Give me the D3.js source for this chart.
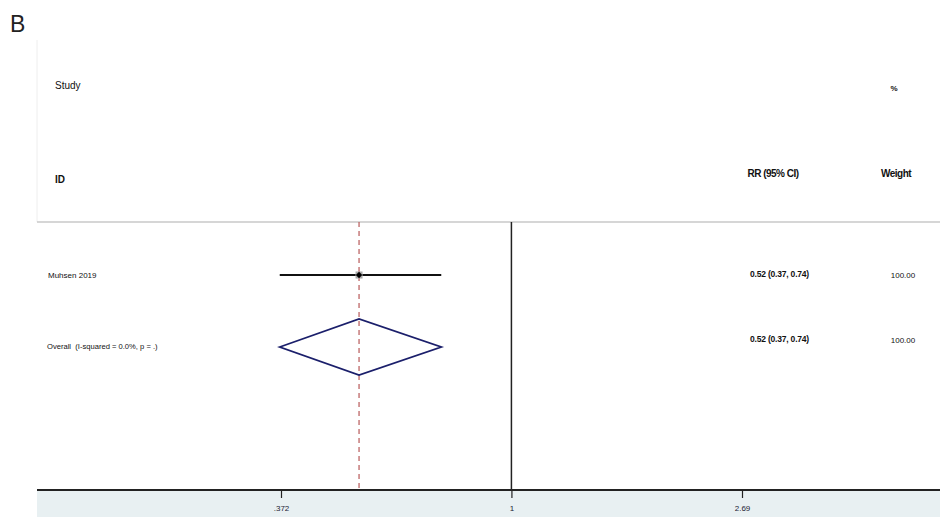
<!DOCTYPE html>
<html><head><meta charset="utf-8">
<script src="https://cdn.jsdelivr.net/npm/d3@7"></script>
<style>body{margin:0;background:#fff;}svg{display:block;font-family:"Liberation Sans",Arial,sans-serif;}text{white-space:pre;}</style>
</head><body><svg id="c" width="940" height="517"></svg>
<script>
const studies = ["Muhsen 2019"];
const rr = [0.52];
const lo = [0.37];
const hi = [0.74];
const weights = ["100.00"];
const overallLabel = "Overall  (I-squared = 0.0%, p = .)";
const overall = {rr:0.52, lo:0.37, hi:0.74, text:"0.52 (0.37, 0.74)", weight:"100.00"};
const rrText = ["0.52 (0.37, 0.74)"];
const tickVals = [0.372, 1, 2.69];
const tickLabels = [".372", "1", "2.69"];

const svg = d3.select("#c");
const x = d3.scaleLog().domain([0.372, 2.69]).range([281, 742]);
const yRow = d3.scalePoint().domain(["s0","ov"]).range([275, 347]);
const yTop = 222, yBot = 490, xLeft = 37, xRight = 940;

// panel
svg.append("rect").attr("x",xLeft).attr("y",yBot).attr("width",xRight-xLeft).attr("height",517-yBot).attr("fill","#e8f0f2");
svg.append("line").attr("x1",xLeft).attr("x2",xLeft).attr("y1",40).attr("y2",yTop).attr("stroke","#eeeeee").attr("stroke-width",1);
svg.append("line").attr("x1",xLeft).attr("x2",xRight).attr("y1",yTop).attr("y2",yTop).attr("stroke","#c8c8c8").attr("stroke-width",1.5);

svg.append("text").attr("x",10).attr("y",32).attr("font-size",23).attr("fill","#222").text("B");

// headers
const hdr = (t,xx,yy,anchor,w,fs)=>svg.append("text").attr("x",xx).attr("y",yy).attr("text-anchor",anchor||"start")
  .attr("font-size",fs||10).attr("font-weight",w||"normal").attr("fill","#111").text(t);
hdr("Study",55,89);
hdr("ID",55,183,"start","bold",10);
hdr("RR (95% CI)",773,177,"middle","bold",10).attr("letter-spacing",-0.5);
hdr("Weight",896,177,"middle","bold",10).attr("letter-spacing",-0.5);
hdr("%",894,91,"middle","bold",8);

// null line
svg.append("line").attr("x1",x(1)).attr("x2",x(1)).attr("y1",yTop).attr("y2",yBot).attr("stroke","#222").attr("stroke-width",1.5);
// overall dashed
svg.append("line").attr("x1",x(overall.rr)).attr("x2",x(overall.rr)).attr("y1",yTop).attr("y2",yBot)
  .attr("stroke","#b85a5a").attr("stroke-width",1.2).attr("stroke-dasharray","5,4");

// studies
studies.forEach((s,i)=>{
  const yy = yRow("s"+i);
  svg.append("line").attr("x1",x(lo[i])).attr("x2",x(hi[i])).attr("y1",yy).attr("y2",yy).attr("stroke","#111").attr("stroke-width",1.8);
  svg.append("rect").attr("x",x(rr[i])-3.5).attr("y",yy-3.5).attr("width",7).attr("height",7).attr("fill","#aaa");
  svg.append("path").attr("d",d3.symbol(d3.symbolDiamond2,26)()).attr("transform",`translate(${x(rr[i])},${yy})`).attr("fill","#000");
  svg.append("text").attr("x",48).attr("y",yy+3).attr("font-size",8).attr("fill","#111").text(s);
  svg.append("text").attr("x",750).attr("y",yy+2).attr("font-size",8.5).attr("font-weight","bold").attr("fill","#111").attr("letter-spacing",-0.2).text(rrText[i]);
  svg.append("text").attr("x",903).attr("y",yy+3).attr("text-anchor","middle").attr("font-size",8).attr("fill","#111").text(weights[i]);
});

// overall diamond
const yo = yRow("ov");
const dh = 28;
svg.append("path").attr("d",`M${x(overall.lo)},${yo} L${x(overall.rr)},${yo-dh} L${x(overall.hi)},${yo} L${x(overall.rr)},${yo+dh} Z`)
  .attr("fill","none").attr("stroke","#1b1f6b").attr("stroke-width",1.8);
svg.append("text").attr("x",47).attr("y",yo+2).attr("font-size",7.6).attr("fill","#111").text(overallLabel);
svg.append("text").attr("x",750).attr("y",yo-5).attr("font-size",8.5).attr("font-weight","bold").attr("fill","#111").attr("letter-spacing",-0.2).text(overall.text);
svg.append("text").attr("x",903).attr("y",yo-4).attr("text-anchor","middle").attr("font-size",8).attr("fill","#111").text(overall.weight);

// axis
const ax = d3.axisBottom(x).tickValues(tickVals).tickFormat((d,i)=>tickLabels[i]).tickSize(8).tickPadding(7);
const g = svg.append("g").attr("transform",`translate(0,${yBot})`).call(ax);
g.select(".domain").remove();
g.selectAll(".tick line").attr("stroke","#222").attr("stroke-width",1.2);
g.selectAll(".tick text").attr("font-size",8).attr("fill","#223").attr("font-family","Liberation Sans, Arial");
svg.append("line").attr("x1",xLeft).attr("x2",xRight).attr("y1",yBot).attr("y2",yBot).attr("stroke","#222").attr("stroke-width",1.8);
</script></body></html>
